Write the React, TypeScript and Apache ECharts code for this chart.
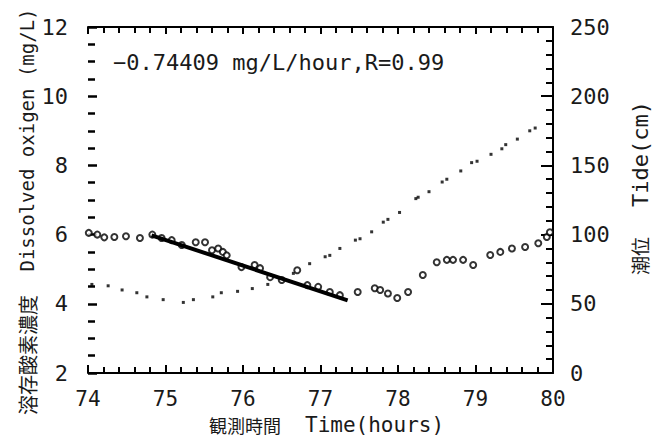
import React, { useEffect, useRef } from "react";
import * as echarts from "echarts";

// Dissolved oxygen observations (hours, mg/L)
const doTime = [74.01, 74.12, 74.21, 74.34, 74.49, 74.67, 74.83, 74.95, 75.08, 75.21, 75.39, 75.51, 75.6, 75.68, 75.74, 75.79, 75.98, 76.15, 76.22, 76.35, 76.5, 76.7, 76.83, 76.97, 77.12, 77.25, 77.48, 77.7, 77.77, 77.87, 77.99, 78.13, 78.32, 78.5, 78.63, 78.71, 78.84, 78.97, 79.19, 79.32, 79.47, 79.64, 79.81, 79.92, 79.96];
const doValue = [6.05, 6.0, 5.92, 5.93, 5.95, 5.9, 6.0, 5.9, 5.84, 5.7, 5.78, 5.78, 5.55, 5.6, 5.5, 5.4, 5.06, 5.12, 5.03, 4.77, 4.69, 4.97, 4.54, 4.49, 4.34, 4.25, 4.34, 4.45, 4.4, 4.3, 4.17, 4.34, 4.83, 5.2, 5.27, 5.27, 5.27, 5.12, 5.41, 5.5, 5.6, 5.64, 5.75, 5.93, 6.07];

// Tide observations (hours, cm)
const tideTime = [74.05, 74.26, 74.44, 74.63, 74.76, 74.97, 75.23, 75.36, 75.61, 75.72, 75.93, 76.12, 76.32, 76.65, 76.86, 77.06, 77.12, 77.25, 77.45, 77.51, 77.66, 77.81, 77.87, 78.02, 78.23, 78.26, 78.4, 78.57, 78.63, 78.81, 78.95, 79.02, 79.2, 79.34, 79.39, 79.54, 79.7, 79.77];
const tideValue = [64, 63, 60, 58, 55, 53, 51, 53, 55, 58, 59, 61, 64, 72, 79, 84, 85, 90, 96, 97, 102, 109, 111, 116, 126, 127, 131, 138, 140, 146, 152, 153, 158, 162, 165, 169, 175, 177];

// Regression line end points (hours, mg/L)
const fitTime = [74.82, 77.35];
const fitValue = [5.98, 4.1];

// Axis ranges
const timeRange = [74, 80];
const doRange = [2, 12];
const tideRange = [0, 250];

const fitLabel = "−0.74409 mg/L/hour,R=0.99";

const MONO = "'DejaVu Sans Mono', 'Noto Sans CJK JP', monospace";
const CJK = "'Noto Sans CJK JP', sans-serif";
const INK = "#1a1a1a";

export default function App() {
  const ref = useRef<HTMLDivElement>(null);
  useEffect(() => {
    if (!ref.current) return;
    const chart = echarts.init(ref.current, undefined, { renderer: "svg" });
    const labelStyle = { color: INK, fontSize: 22, lineHeight: 22, fontFamily: MONO };
    chart.setOption({
      animation: false,
      backgroundColor: "#ffffff",
      grid: { left: 88, right: 108, top: 27, bottom: 65 },
      xAxis: [
        {
          type: "value",
          min: timeRange[0],
          max: timeRange[1],
          interval: 1,
          position: "bottom",
          axisLine: { show: true, onZero: false, lineStyle: { color: "#000", width: 2 } },
          axisTick: { show: true, inside: true, length: 8, lineStyle: { color: "#000", width: 2 } },
          minorTick: { show: true, splitNumber: 5, length: 6, lineStyle: { color: "#000", width: 2 } },
          axisLabel: { ...labelStyle, fontSize: 21, lineHeight: 21, margin: 15 },
          splitLine: { show: false },
        },
        {
          type: "value",
          min: timeRange[0],
          max: timeRange[1],
          interval: 1,
          position: "top",
          axisLine: { show: true, onZero: false, lineStyle: { color: "#000", width: 2 } },
          axisTick: { show: true, inside: true, length: 7, lineStyle: { color: "#000", width: 2 } },
          minorTick: { show: true, splitNumber: 5, length: 6, lineStyle: { color: "#000", width: 2 } },
          axisLabel: { show: false },
          splitLine: { show: false },
        },
      ],
      yAxis: [
        {
          type: "value",
          min: doRange[0],
          max: doRange[1],
          interval: 2,
          position: "left",
          axisLine: { show: false },
          axisTick: { show: true, inside: true, length: 9, lineStyle: { color: "#000", width: 2.5 } },
          minorTick: { show: true, splitNumber: 4, length: 7, lineStyle: { color: "#000", width: 2.5 } },
          axisLabel: { ...labelStyle, margin: 20 },
          splitLine: { show: false },
        },
        {
          type: "value",
          min: tideRange[0],
          max: tideRange[1],
          interval: 50,
          position: "right",
          axisLine: { show: true, onZero: false, lineStyle: { color: "#000", width: 2 } },
          axisTick: { show: true, inside: true, length: 12, lineStyle: { color: "#000", width: 2 } },
          minorTick: { show: true, splitNumber: 5, length: 7, lineStyle: { color: "#000", width: 2 } },
          axisLabel: { ...labelStyle, margin: 17 },
          splitLine: { show: false },
        },
      ],
      series: [
        {
          name: "Tide",
          type: "scatter",
          xAxisIndex: 0,
          yAxisIndex: 1,
          symbol: "rect",
          symbolSize: 3,
          itemStyle: { color: "#000" },
          data: tideTime.map((t, i) => [t, tideValue[i]]),
          z: 2,
        },
        {
          name: "DO",
          type: "scatter",
          xAxisIndex: 0,
          yAxisIndex: 0,
          symbol: "emptyCircle",
          symbolSize: 6,
          itemStyle: { color: "#000", borderColor: "#000", borderWidth: 1.5 },
          data: doTime.map((t, i) => [t, doValue[i]]),
          z: 3,
        },
        {
          name: "fit",
          type: "line",
          xAxisIndex: 0,
          yAxisIndex: 0,
          symbol: "none",
          lineStyle: { color: "#000", width: 4 },
          data: fitTime.map((t, i) => [t, fitValue[i]]),
          z: 4,
        },
      ],
      graphic: [
        {
          type: "text",
          x: 113,
          y: 62,
          style: { text: fitLabel, fill: INK, fontSize: 22, fontFamily: MONO, align: "left", verticalAlign: "middle" },
        },
        {
          type: "text",
          x: 27,
          y: 140,
          rotation: Math.PI / 2,
          style: { text: "Dissolved oxigen (mg/L)", fill: INK, fontSize: 19, fontFamily: MONO, align: "center", verticalAlign: "middle" },
        },
        {
          type: "text",
          x: 27,
          y: 355,
          rotation: Math.PI / 2,
          style: { text: "溶存酸素濃度", fill: INK, fontSize: 20, fontFamily: CJK, align: "center", verticalAlign: "middle" },
        },
        {
          type: "text",
          x: 640,
          y: 154,
          rotation: Math.PI / 2,
          style: { text: "Tide(cm)", fill: INK, fontSize: 22, fontFamily: MONO, align: "center", verticalAlign: "middle" },
        },
        {
          type: "text",
          x: 639,
          y: 256,
          rotation: Math.PI / 2,
          style: { text: "潮位", fill: INK, fontSize: 19, fontFamily: CJK, align: "center", verticalAlign: "middle" },
        },
        {
          type: "text",
          x: 245,
          y: 425,
          style: { text: "観測時間", fill: INK, fontSize: 18, lineHeight: 18, fontFamily: CJK, align: "center", verticalAlign: "middle" },
        },
        {
          type: "text",
          x: 305,
          y: 425,
          style: { text: "Time(hours)", fill: INK, fontSize: 21, lineHeight: 21, fontFamily: MONO, align: "left", verticalAlign: "middle" },
        },
      ],
    });
    return () => chart.dispose();
  }, []);
  return <div ref={ref} style={{ width: 661, height: 438, position: "absolute", left: 0, top: 0 }} />;
}
